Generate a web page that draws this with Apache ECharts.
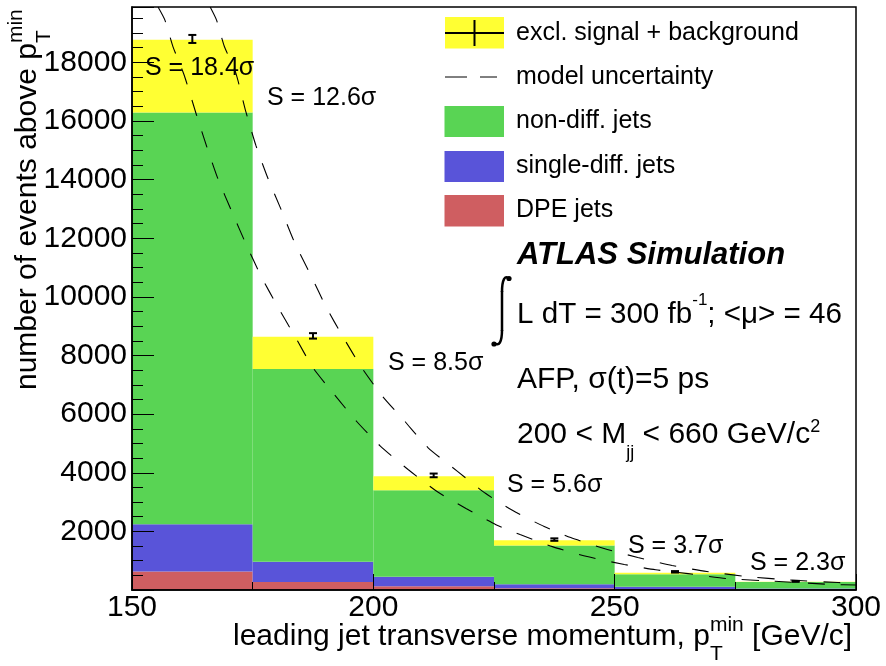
<!DOCTYPE html>
<html><head><meta charset="utf-8">
<script src="https://cdn.jsdelivr.net/npm/echarts@6/dist/echarts.min.js"></script>
<style>html,body{margin:0;padding:0;background:#fff}#c{width:886px;height:666px}</style>
</head><body><div id="c"></div>
<script>
// ---- data ----
const binEdges = [150, 175, 200, 225, 250, 275, 300];
const dpeJets        = [630, 270, 130, 60, 30, 12];
const singleDiffJets = [1610, 690, 320, 140, 80, 38];
const nonDiffJets    = [14050, 6580, 2950, 1320, 430, 220];
const exclSignal     = [2480, 1100, 480, 180, 50, 15];
const dataPoints = [18800, 8670, 3910, 1720, 620, 295];
const dataErrors = [137, 93, 63, 42, 25, 17];
const upperUncX = [166.2,167.5,169.1,171.5,173.6,175.7,178.2,181.0,183.8,187.1,190.2,193.7,197.6,201.8,206.6,211.3,217.5,223.3,228.9,235.4,240.9,247.8,254.8,261.9,269.1,277.4,286.3,296.3,300];
const upperUncY = [19890,19450,18560,17640,16310,15150,14030,12940,11810,10720,9660,8640,7580,6630,5740,4860,4040,3290,2710,2165,1790,1415,1110,835,630,460,340,255,240];
const lowerUncX = [155.4,156.8,158.5,160.8,163.3,165.5,167.8,170.7,173.6,176.7,180.2,183.8,187.5,192.1,196.6,201.4,207.2,213.2,219.2,225.4,230.4,237.1,244.3,252.0,258.5,265.2,273.1,283.0,295.0,300];
const lowerUncY = [19890,19450,18530,17570,16240,15120,14030,12900,11810,10720,9660,8640,7580,6630,5740,4920,4110,3360,2780,2230,1890,1480,1140,870,690,560,390,300,190,170];
const significance = ['S = 18.4σ', 'S = 12.6σ', 'S = 8.5σ', 'S = 5.6σ', 'S = 3.7σ', 'S = 2.3σ'];
const xTicks = [150, 200, 250, 300];
const yMax = 19890;

// ---- colours ----
const C_YEL = '#ffff33', C_GRN = '#59d454', C_BLU = '#5954d9', C_RED = '#cf5e61';
const FONT = '"Liberation Sans", Arial, Helvetica, sans-serif';

function layer(base, vals) { return vals.map((v, i) => [binEdges[i], binEdges[i + 1], base[i], base[i] + v]); }
const zero = dpeJets.map(() => 0);
const L1 = layer(zero, dpeJets);
const L2 = layer(L1.map(d => d[3]), singleDiffJets);
const L3 = layer(L2.map(d => d[3]), nonDiffJets);
const L4 = layer(L3.map(d => d[3]), exclSignal);

function renderBar(params, api) {
  const p0 = api.coord([api.value(0), api.value(3)]);
  const p1 = api.coord([api.value(1), api.value(2)]);
  return { type: 'rect', shape: { x: p0[0], y: p0[1], width: p1[0] - p0[0], height: p1[1] - p0[1] },
    style: { fill: api.visual('color') } };
}
function barSeries(data, color) {
  return { type: 'custom', renderItem: renderBar, data: data, encode: { x: [0, 1], y: [2, 3] },
    itemStyle: { color: color }, silent: true, z: 1, clip: true };
}
const errData = dataPoints.map((v, i) => [(binEdges[i] + binEdges[i + 1]) / 2, v, v - dataErrors[i], v + dataErrors[i]]);
function renderErr(params, api) {
  const x = api.value(0);
  const lo = api.coord([x, api.value(2)]), hi = api.coord([x, api.value(3)]);
  const cx = lo[0], hw = 4;
  const st = { stroke: '#000', lineWidth: 2 };
  return { type: 'group', children: [
    { type: 'line', shape: { x1: cx, y1: lo[1], x2: cx, y2: hi[1] }, style: st },
    { type: 'line', shape: { x1: cx - hw, y1: lo[1], x2: cx + hw, y2: lo[1] }, style: st },
    { type: 'line', shape: { x1: cx - hw, y1: hi[1], x2: cx + hw, y2: hi[1] }, style: st }
  ] };
}
const dash = { color: '#000', width: 1.1, type: [17, 16] };

// ---- text helpers ----
const mctx = document.createElement('canvas').getContext('2d');
function fnt(size, st) { return (st || '') + ' ' + size + 'px ' + FONT; }
function tw(t, font) { mctx.font = font; return mctx.measureText(t).width; }
function T(text, x, y, size, st, extra) {
  return Object.assign({ type: 'text', x: x, y: y, z: 100,
    style: { text: text, x: 0, y: 0, font: fnt(size, st), fill: '#000', textAlign: 'left', align: 'left',
      textVerticalAlign: 'middle', verticalAlign: 'middle' } }, extra || {});
}
function run(x0, yb, pieces, rotated) {
  const out = []; let u = 0;
  function put(p) {
    const font = fnt(p.size, p.st);
    const v = (p.dy || 0) - 0.35 * p.size;
    if (!rotated) out.push(T(p.t, x0 + u, yb + v, p.size, p.st));
    else out.push(T(p.t, x0 + v, yb - u, p.size, p.st, { rotation: Math.PI / 2 }));
    return tw(p.t, font);
  }
  pieces.forEach(p => {
    if (p.stack) { let m = 0; p.stack.forEach(q => { m = Math.max(m, put(q)); }); u += m; }
    else u += put(p);
  });
  return out;
}

const graphics = [];
const sigPos = [[145, 77], [267, 106.7], [388, 372], [507, 494], [628, 555], [750, 571.7]];
significance.forEach((s, i) => graphics.push(T(s, sigPos[i][0], sigPos[i][1] - 8.75, 25)));

// legend
graphics.push({ type: 'rect', z: 100, shape: { x: 445, y: 17, width: 59, height: 31.5 }, style: { fill: C_YEL } });
graphics.push({ type: 'line', z: 101, shape: { x1: 445, y1: 33, x2: 504, y2: 33 }, style: { stroke: '#000', lineWidth: 2 } });
graphics.push({ type: 'line', z: 101, shape: { x1: 474.5, y1: 20, x2: 474.5, y2: 46 }, style: { stroke: '#000', lineWidth: 2 } });
graphics.push({ type: 'line', z: 101, shape: { x1: 445, y1: 77, x2: 467, y2: 77 }, style: { stroke: '#000', lineWidth: 1 } });
graphics.push({ type: 'line', z: 101, shape: { x1: 480, y1: 77, x2: 497, y2: 77 }, style: { stroke: '#000', lineWidth: 1 } });
graphics.push({ type: 'rect', z: 100, shape: { x: 444.5, y: 106, width: 59.5, height: 31 }, style: { fill: C_GRN } });
graphics.push({ type: 'rect', z: 100, shape: { x: 444.5, y: 151, width: 59.5, height: 31 }, style: { fill: C_BLU } });
graphics.push({ type: 'rect', z: 100, shape: { x: 444.5, y: 195, width: 59.5, height: 31.5 }, style: { fill: C_RED } });
const legTexts = ['excl. signal + background', 'model uncertainty', 'non-diff. jets', 'single-diff. jets', 'DPE jets'];
const legY = [33, 77, 121, 166, 210];
legTexts.forEach((t, i) => graphics.push(T(t, 516, legY[i], 25)));

// ATLAS block
graphics.push(T('ATLAS Simulation', 517, 255, 31, 'italic bold'));
const intSt = { stroke: '#000', fill: null, lineWidth: 2.5 };
graphics.push({ type: 'bezierCurve', z: 100, shape: { x1: 509, y1: 279, cpx1: 505, cpy1: 274, cpx2: 502, cpy2: 280, x2: 502, y2: 292 }, style: intSt });
graphics.push({ type: 'line', z: 100, shape: { x1: 502, y1: 291, x2: 502, y2: 331 }, style: intSt });
graphics.push({ type: 'bezierCurve', z: 100, shape: { x1: 502, y1: 330, cpx1: 502, cpy1: 342, cpx2: 499, cpy2: 347, x2: 494, y2: 343 }, style: intSt });
graphics.push({ type: 'circle', z: 100, shape: { cx: 509, cy: 278.5, r: 2.6 }, style: { fill: '#000' } });
graphics.push({ type: 'circle', z: 100, shape: { cx: 494, cy: 344, r: 2.6 }, style: { fill: '#000' } });
run(517, 325, [{ t: 'L dT = 300 fb', size: 29.6 }, { t: '-1', size: 17, dy: -19 }, { t: '; <μ> = 46', size: 29.6 }]).forEach(g => graphics.push(g));
graphics.push(T('AFP, σ(t)=5 ps', 517, 390 - 10.5, 30));
run(517, 445, [{ t: '200 < M', size: 30 }, { t: 'jj', size: 18, dy: 14 }, { t: ' < 660 GeV/c', size: 30 }, { t: '2', size: 18, dy: -12 }]).forEach(g => graphics.push(g));

// axis titles
run(233, 647.7, [{ t: 'leading jet transverse momentum, p', size: 30 }, { stack: [{ t: 'T', size: 21, dy: 14 }, { t: 'min', size: 21, dy: -14.7 }] }, { t: ' [GeV/c]', size: 30 }]).forEach(g => graphics.push(g));
run(38, 390, [{ t: 'number of events above p', size: 30 }, { stack: [{ t: 'T', size: 21, dy: 14 }, { t: 'min', size: 21, dy: -14.7 }] }], true).forEach(g => graphics.push(g));

const chart = echarts.init(document.getElementById('c'), null, { renderer: 'canvas', width: 886, height: 666 });
chart.setOption({
  animation: false,
  backgroundColor: '#fff',
  grid: { left: 132, right: 30, top: 7, bottom: 76, show: true, borderColor: '#000', borderWidth: 1.5, backgroundColor: 'transparent', z: 10 },
  xAxis: { type: 'value', min: 150, max: 300, interval: 50, z: 10,
    axisLine: { show: true, onZero: false, lineStyle: { color: '#000', width: 1.5 } },
    axisTick: { show: true, inside: true, length: 16, lineStyle: { color: '#000', width: 1 } },
    minorTick: { show: true, splitNumber: 2, length: 8, lineStyle: { color: '#000', width: 1 } },
    splitLine: { show: false }, minorSplitLine: { show: false },
    axisLabel: { color: '#000', fontSize: 30, fontFamily: FONT, margin: 3,
      formatter: v => xTicks.indexOf(v) >= 0 ? String(v) : '' } },
  yAxis: { type: 'value', min: 0, max: yMax, interval: 2000, z: 10,
    axisLine: { show: true, onZero: false, lineStyle: { color: '#000', width: 1.5 } },
    axisTick: { show: true, inside: true, length: 22, lineStyle: { color: '#000', width: 1 } },
    minorTick: { show: true, splitNumber: 4, length: 11, lineStyle: { color: '#000', width: 1 } },
    splitLine: { show: false }, minorSplitLine: { show: false },
    axisLabel: { color: '#000', fontSize: 30, fontFamily: FONT, margin: 5,
      formatter: v => (v > 0 && v % 2000 === 0) ? String(v) : '' } },
  series: [
    barSeries(L1, C_RED), barSeries(L2, C_BLU), barSeries(L3, C_GRN), barSeries(L4, C_YEL),
    { type: 'line', data: upperUncX.map((x, i) => [x, upperUncY[i]]), showSymbol: false, smooth: 0.2, lineStyle: dash, z: 3, silent: true },
    { type: 'line', data: lowerUncX.map((x, i) => [x, lowerUncY[i]]), showSymbol: false, smooth: 0.2, lineStyle: dash, z: 3, silent: true },
    { type: 'custom', renderItem: renderErr, data: errData, encode: { x: 0, y: [1, 2, 3] }, z: 4, silent: true }
  ],
  graphic: { elements: graphics }
});
</script></body></html>
